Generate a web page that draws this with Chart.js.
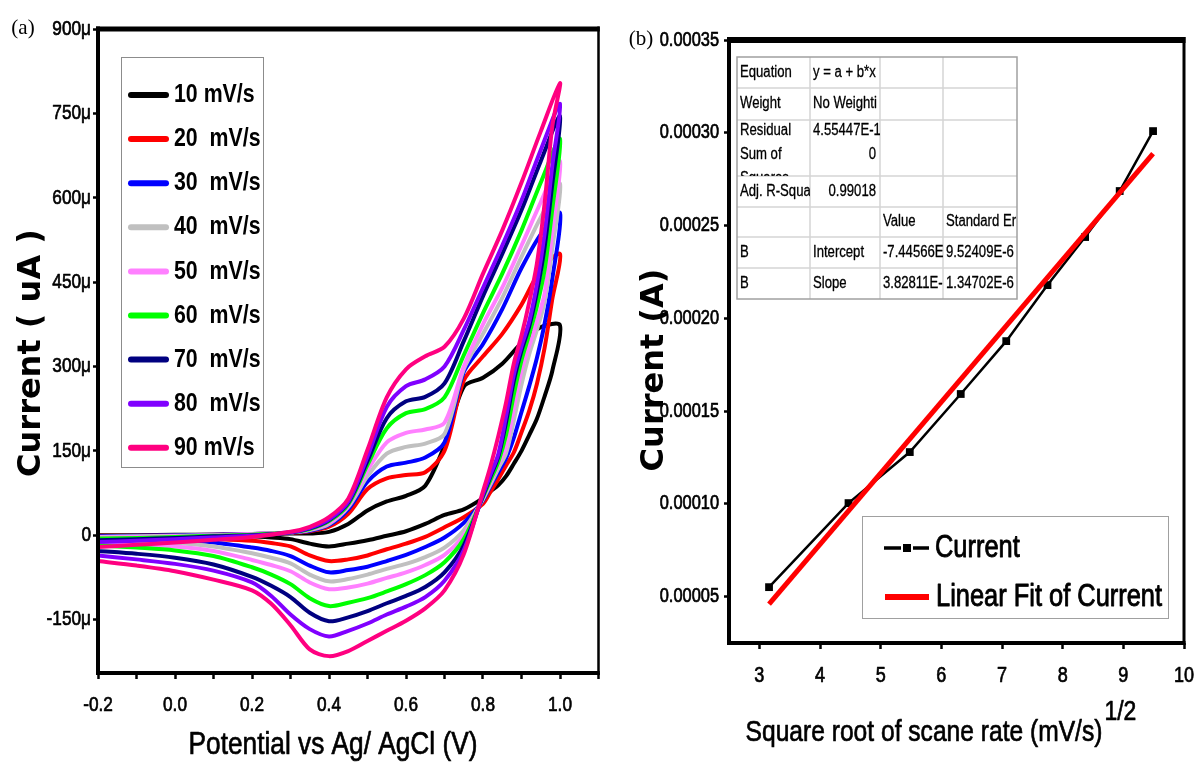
<!DOCTYPE html>
<html>
<head>
<meta charset="utf-8">
<title>CV scan-rate study</title>
<script src="https://cdn.jsdelivr.net/npm/chart.js@4.4.1/dist/chart.umd.min.js"></script>
<style>
  html, body { margin: 0; padding: 0; background: #fff; }
  #panelA { position: absolute; left: 0; top: 0; width: 600px; height: 767px; }
  #panelB { position: absolute; left: 600px; top: 0; width: 595px; height: 767px; }
</style>
</head>
<body>
<div id="panelA"><canvas id="cvChart"></canvas></div>
<div id="panelB"><canvas id="fitChart"></canvas></div>
<script>
/* ─── Panel (a): cyclic voltammograms, current in µA ─────────────── */
const rateLabels  = ['10 mV/s', '20  mV/s', '30  mV/s', '40  mV/s', '50  mV/s', '60  mV/s', '70  mV/s', '80  mV/s', '90 mV/s'];
const rateColours = ['#000000', '#ff0000', '#0000ff', '#c0c0c0', '#ff80ff', '#00ff00', '#000080', '#8000ff', '#ff0080'];

// anodic sweep potentials (V) and cathodic (return) sweep potentials (V)
const fwdPotential = [-0.2, -0.1, 0.0, 0.1, 0.2, 0.3, 0.35, 0.4, 0.45, 0.5, 0.55, 0.6, 0.65, 0.7, 0.75, 0.8, 0.85, 0.9, 0.95, 1.0];
const revPotential = [0.98, 0.96, 0.94, 0.92, 0.9, 0.88, 0.86, 0.84, 0.82, 0.8, 0.75, 0.7, 0.65, 0.6, 0.55, 0.5, 0.45, 0.4, 0.35, 0.3, 0.25, 0.2, 0.1, 0.0, -0.1, -0.2];

const fwd10 = [0, 0, 1, 1, 2, 3, 3, 6, 20, 44, 60, 70, 88, 160, 264, 280, 305, 342, 370, 373];
const fwd20 = [-1, -1, 0, 1, 2, 4, 7, 15, 38, 82, 101, 107, 112, 150, 275, 318, 358, 410, 472, 500];
const fwd30 = [-2, -1, 0, 1, 2, 5, 8, 18, 46, 95, 122, 129, 138, 165, 290, 340, 402, 475, 535, 573];
const fwd40 = [-3, -2, -1, 0, 2, 5, 9, 20, 50, 105, 145, 157, 163, 180, 295, 358, 422, 495, 565, 625];
const fwd50 = [-4, -3, -2, 0, 2, 5, 10, 22, 52, 115, 165, 182, 188, 200, 300, 375, 440, 515, 592, 665];
const fwd60 = [-6, -5, -3, -1, 1, 5, 11, 25, 55, 125, 190, 217, 224, 245, 320, 395, 465, 542, 627, 705];
const fwd70 = [-9, -7, -5, -2, 0, 5, 12, 27, 58, 132, 208, 238, 246, 270, 345, 425, 500, 578, 665, 745];
const fwd80 = [-12, -10, -7, -4, -1, 5, 13, 28, 60, 140, 228, 265, 277, 300, 365, 440, 515, 595, 685, 767];
const fwd90 = [-21, -17, -13, -8, -3, 6, 15, 32, 65, 152, 245, 295, 318, 335, 385, 465, 542, 627, 718, 804];

const rev10 = [292, 247, 207, 178, 150, 127, 105, 89, 78, 66, 46, 36, 20, 7, -1, -9, -15, -20, -15, -7, -4, -2, -1, -1, -1, -1];
const rev20 = [420, 333, 269, 221, 183, 147, 124, 100, 78, 56, 32, 14, -3, -15, -25, -36, -43, -46, -36, -20, -14, -10, -7, -5, -4, -4];
const rev30 = [456, 376, 315, 265, 219, 173, 137, 112, 88, 62, 22, -4, -21, -35, -46, -56, -62, -66, -54, -37, -28, -22, -13, -9, -8, -7];
const rev40 = [510, 415, 365, 322, 268, 204, 146, 119, 91, 64, 9, -22, -39, -51, -60, -70, -78, -82, -70, -50, -40, -32, -20, -14, -12, -10];
const rev50 = [540, 430, 380, 336, 293, 225, 157, 127, 95, 66, 0, -35, -53, -66, -76, -86, -93, -96, -84, -64, -53, -44, -28, -20, -17, -14];
const rev60 = [580, 472, 407, 357, 311, 250, 179, 131, 99, 68, -7, -48, -71, -87, -100, -112, -120, -126, -112, -87, -70, -57, -37, -27, -22, -18];
const rev70 = [624, 512, 432, 371, 328, 274, 201, 140, 105, 70, -18, -66, -92, -108, -121, -135, -146, -153, -138, -110, -90, -74, -52, -40, -33, -28];
const rev80 = [657, 536, 447, 380, 336, 285, 212, 145, 109, 73, -27, -81, -110, -127, -141, -157, -170, -180, -167, -141, -108, -84, -63, -51, -43, -36];
const rev90 = [727, 590, 483, 414, 355, 305, 236, 177, 124, 78, -34, -98, -130, -152, -170, -188, -206, -215, -203, -160, -122, -98, -79, -64, -54, -46];

const potentialTicks = [-0.2, -0.1, 0.0, 0.1, 0.2, 0.3, 0.4, 0.5, 0.6, 0.7, 0.8, 0.9, 1.0, 1.1];
const currentTicksA  = [-150, 0, 150, 300, 450, 600, 750, 900];

/* ─── Panel (b): peak current vs sqrt(scan rate) ─────────────────── */
const sqrtRate    = [3.16, 4.47, 5.48, 6.32, 7.07, 7.75, 8.37, 8.94, 9.49];
const peakCurrent = [0.0000551, 0.0001004, 0.0001279, 0.0001592, 0.0001877, 0.0002179, 0.0002438, 0.0002686, 0.0003009];
const fitX = [3.16, 9.49];
const fitY = [0.0000460, 0.0002887];
const rootTicks     = [3, 4, 5, 6, 7, 8, 9, 10];
const currentTicksB = [0.00005, 0.0001, 0.00015, 0.0002, 0.00025, 0.0003, 0.00035];

const fitTable = [
  ['Equation', 'y = a + b*x', '', ''],
  ['Weight', 'No Weighti', '', ''],
  ['Residual|Sum of|Squares', '4.55447E-1|0', '', ''],
  ['Adj. R-Squa', '0.99018', '', ''],
  ['', '', 'Value', 'Standard Er'],
  ['B', 'Intercept', '-7.44566E', '9.52409E-6'],
  ['B', 'Slope', '3.82811E-', '1.34702E-6'],
];

/* ─── Shared styling ─────────────────────────────────────────────── */
// the original export is horizontally squeezed, so Arial-metric text gets a 0.82 x-scale
const SANS  = "'Liberation Sans', Arial, sans-serif";
const WIDE  = "'DejaVu Sans', Verdana, sans-serif";
const SERIF = "'Liberation Serif', 'DejaVu Serif', serif";
const SQUEEZE = 0.82;

function text(ctx, str, x, y, font, align = 'center', rot = 0, sx = 1, heavy = 0) {
  ctx.save();
  ctx.translate(x, y);
  if (rot) ctx.rotate(rot);
  if (sx !== 1) ctx.scale(sx, 1);
  ctx.font = font;
  ctx.fillStyle = '#000';
  ctx.textAlign = align;
  ctx.textBaseline = 'middle';
  ctx.fillText(str, 0, 0);
  if (heavy) {               // a hairline stroke thickens the regular face a little
    ctx.strokeStyle = '#000';
    ctx.lineWidth = heavy;
    ctx.lineJoin = 'round';
    ctx.strokeText(str, 0, 0);
  }
  ctx.restore();
}
const narrow = (ctx, str, x, y, font, align = 'center', heavy = 0.7) =>
  text(ctx, str, x, y, font, align, 0, SQUEEZE, heavy);

// Origin-style axis box: heavy top edge, lighter right edge
function frame(ctx, a, top, side, right) {
  ctx.save();
  ctx.fillStyle = '#000';
  ctx.fillRect(a.left - side / 2, a.top - top / 2, a.right - a.left + side / 2 + right / 2, top);
  ctx.fillRect(a.left - side / 2, a.bottom - side / 2, a.right - a.left + side / 2 + right / 2, side);
  ctx.fillRect(a.left - side / 2, a.top - top / 2, side, a.bottom - a.top + top / 2 + side / 2);
  ctx.fillRect(a.right - right / 2, a.top - top / 2, right, a.bottom - a.top + top / 2 + side / 2);
  ctx.restore();
}

// tick labels go through the scales, drawn squeezed like the rest of the text
function axisLabels(chart, xs, ys, xFmt, yFmt, xLabelY, yLabelX, xSize, ySize) {
  const ctx = chart.ctx;
  const sx = chart.scales.x, sy = chart.scales.y;
  xs.forEach((v, i) => {
    const s = xFmt(v, i);
    if (s) narrow(ctx, s, sx.getPixelForValue(v), xLabelY, `${xSize}px ${SANS}`);
  });
  ys.forEach(v => narrow(ctx, yFmt(v), yLabelX, sy.getPixelForValue(v), `${ySize}px ${SANS}`, 'right'));
}

function tickGrid(len) {
  return { drawOnChartArea: false, drawTicks: true, tickLength: len, tickWidth: 2.5, tickColor: '#000' };
}

/* ─── Chart (a) ──────────────────────────────────────────────────── */
function cvLoop(fwd, rev) {
  const pts = fwdPotential.map((e, i) => ({ x: e, y: fwd[i] }));
  return pts.concat(revPotential.map((e, i) => ({ x: e, y: rev[i] })));
}

const fwdCurrents = [fwd10, fwd20, fwd30, fwd40, fwd50, fwd60, fwd70, fwd80, fwd90];
const revCurrents = [rev10, rev20, rev30, rev40, rev50, rev60, rev70, rev80, rev90];

const fmtPotential = (v, i) => (i % 2 === 0 ? v.toFixed(1) : '');
const fmtMicro = v => (v === 0 ? '0' : v + 'μ');

const cvDecor = {
  id: 'cvDecor',
  afterDatasetsDraw(chart) {
    frame(chart.ctx, chart.chartArea, 5, 4, 2.5);
  },
  afterDraw(chart) {
    const ctx = chart.ctx;
    axisLabels(chart, potentialTicks, currentTicksA, fmtPotential, fmtMicro, 705, 91, 21, 21);
    // legend
    ctx.save();
    ctx.fillStyle = '#fff';
    ctx.fillRect(121, 57, 142, 410);
    ctx.strokeStyle = '#8c8c8c';
    ctx.lineWidth = 1;
    ctx.strokeRect(121.5, 57.5, 142, 410);
    rateLabels.forEach((lab, i) => {
      const y = 95 + i * 44.1;
      ctx.strokeStyle = rateColours[i];
      ctx.lineWidth = 6;
      ctx.lineCap = 'round';
      ctx.beginPath();
      ctx.moveTo(131, y);
      ctx.lineTo(166, y);
      ctx.stroke();
      narrow(ctx, lab, 174, y, `bold 26px ${SANS}`, 'left', 0);
    });
    ctx.restore();
    narrow(ctx, 'Potential vs Ag/ AgCl (V)', 333, 745, `32px ${SANS}`);
    text(ctx, 'Current ( uA )', 32, 353, `bold 32px ${WIDE}`, 'center', -Math.PI / 2);
    text(ctx, '(a)', 23, 28, `21px ${SERIF}`);
  }
};

new Chart(document.getElementById('cvChart'), {
  type: 'line',
  data: {
    datasets: fwdCurrents.map((f, i) => ({
      label: rateLabels[i],
      data: cvLoop(f, revCurrents[i]),
      borderColor: rateColours[i],
      borderWidth: 4,
      pointRadius: 0,
      tension: 0.3,
      fill: false,
      order: 8 - i,
    }))
  },
  options: {
    responsive: true, maintainAspectRatio: false, animation: false,
    layout: { padding: { left: 0, top: 29, right: 1.5, bottom: 0 } },
    plugins: { legend: { display: false }, tooltip: { enabled: false } },
    scales: {
      x: {
        type: 'linear', min: -0.2, max: 1.1,
        afterBuildTicks: s => { s.ticks = potentialTicks.map(v => ({ value: v })); },
        afterFit: s => { s.height = 94; },
        ticks: { display: false },
        grid: tickGrid(6),
        border: { display: false }
      },
      y: {
        type: 'linear', min: -245, max: 900,
        afterBuildTicks: s => { s.ticks = currentTicksA.map(v => ({ value: v })); },
        afterFit: s => { s.width = 98; },
        ticks: { display: false },
        grid: tickGrid(5),
        border: { display: false }
      }
    }
  },
  plugins: [cvDecor]
});

/* ─── Chart (b) ──────────────────────────────────────────────────── */
const tableCols  = [137, 210, 280, 343, 417];
const tableRowsY = [57, 88, 120, 176, 207, 237, 268, 299];

const fitDecor = {
  id: 'fitDecor',
  afterDatasetsDraw(chart) {
    frame(chart.ctx, chart.chartArea, 6, 4, 3);
  },
  afterDraw(chart) {
    const ctx = chart.ctx;
    axisLabels(chart, rootTicks, currentTicksB, v => String(v), v => v.toFixed(5), 676, 119, 22, 20);
    ctx.save();
    // fit parameter table
    const L = tableCols[0], R = tableCols[4], T = tableRowsY[0], B = tableRowsY[7];
    ctx.fillStyle = '#fff';
    ctx.fillRect(L, T, R - L, B - T);
    ctx.strokeStyle = '#d4d4d4';
    ctx.lineWidth = 1.5;
    tableRowsY.slice(1, -1).forEach(y => { ctx.beginPath(); ctx.moveTo(L, y); ctx.lineTo(R, y); ctx.stroke(); });
    tableCols.slice(1, -1).forEach(x => { ctx.beginPath(); ctx.moveTo(x, T); ctx.lineTo(x, B); ctx.stroke(); });
    ctx.strokeStyle = '#a0a0a0';
    ctx.strokeRect(L, T, R - L, B - T);
    const cellFont = `16px ${SANS}`;
    fitTable.forEach((row, r) => {
      const top = tableRowsY[r], bot = tableRowsY[r + 1];
      row.forEach((cell, c) => {
        if (!cell) return;
        ctx.save();
        ctx.beginPath();
        ctx.rect(tableCols[c], top, tableCols[c + 1] - tableCols[c], bot - top);
        ctx.clip();
        const lines = cell.split('|');
        lines.forEach((ln, k) => {
          const y = lines.length > 1 ? top + 11 + k * 24 : (top + bot) / 2;
          const right = (r === 3 && c === 1) || (r === 2 && c === 1 && k === 1);
          if (right) narrow(ctx, ln, tableCols[c + 1] - 4, y, cellFont, 'right', 0.3);
          else narrow(ctx, ln, tableCols[c] + 3, y, cellFont, 'left', 0.3);
        });
        ctx.restore();
      });
    });
    // legend
    ctx.fillStyle = '#fff';
    ctx.fillRect(262, 516, 306, 102);
    ctx.strokeStyle = '#a0a0a0';
    ctx.lineWidth = 1;
    ctx.strokeRect(262.5, 516.5, 306, 102);
    ctx.strokeStyle = '#000';
    ctx.lineWidth = 3.5;
    ctx.beginPath();
    ctx.moveTo(284, 548); ctx.lineTo(301, 548);
    ctx.moveTo(313, 548); ctx.lineTo(329, 548);
    ctx.stroke();
    ctx.fillStyle = '#000';
    ctx.fillRect(303, 544, 8, 8);
    narrow(ctx, 'Current', 335, 548, `31px ${SANS}`, 'left', 0.9);
    ctx.strokeStyle = '#ff0000';
    ctx.lineWidth = 6;
    ctx.beginPath();
    ctx.moveTo(285, 597); ctx.lineTo(329, 597);
    ctx.stroke();
    narrow(ctx, 'Linear Fit of Current', 336, 597, `31px ${SANS}`, 'left', 0.9);
    ctx.restore();
    // axis titles
    const title = 'Square root of scane rate (mV/s)';
    ctx.font = `30px ${SANS}`;
    const w = ctx.measureText(title).width * SQUEEZE;
    narrow(ctx, title, 324, 733, `30px ${SANS}`);
    narrow(ctx, '1/2', 324 + w / 2 + 2, 712, `28px ${SANS}`, 'left');
    text(ctx, 'Current (A)', 55, 370, `bold 32px ${WIDE}`, 'center', -Math.PI / 2);
    text(ctx, '(b)', 41, 39, `21px ${SERIF}`);
  }
};

new Chart(document.getElementById('fitChart'), {
  type: 'line',
  data: {
    datasets: [
      {
        label: 'Linear Fit of Current',
        data: fitX.map((x, i) => ({ x, y: fitY[i] })),
        borderColor: '#ff0000',
        borderWidth: 5,
        pointRadius: 0,
      },
      {
        label: 'Current',
        data: sqrtRate.map((x, i) => ({ x, y: peakCurrent[i] })),
        borderColor: '#000',
        borderWidth: 2.5,
        pointStyle: 'rect',
        pointRadius: 5.5,
        pointBorderWidth: 0,
        pointBackgroundColor: '#000',
      }
    ]
  },
  options: {
    responsive: true, maintainAspectRatio: false, animation: false,
    layout: { padding: { left: 0, top: 40, right: 11, bottom: 0 } },
    plugins: { legend: { display: false }, tooltip: { enabled: false } },
    scales: {
      x: {
        type: 'linear', min: 2.5, max: 10,
        afterBuildTicks: s => { s.ticks = rootTicks.map(v => ({ value: v })); },
        afterFit: s => { s.height = 124; },
        ticks: { display: false },
        grid: tickGrid(6),
        border: { display: false }
      },
      y: {
        type: 'linear', min: 0.000025, max: 0.00035,
        afterBuildTicks: s => { s.ticks = currentTicksB.map(v => ({ value: v })); },
        afterFit: s => { s.width = 129; },
        ticks: { display: false },
        grid: tickGrid(5),
        border: { display: false }
      }
    }
  },
  plugins: [fitDecor]
});
</script>
</body>
</html>
